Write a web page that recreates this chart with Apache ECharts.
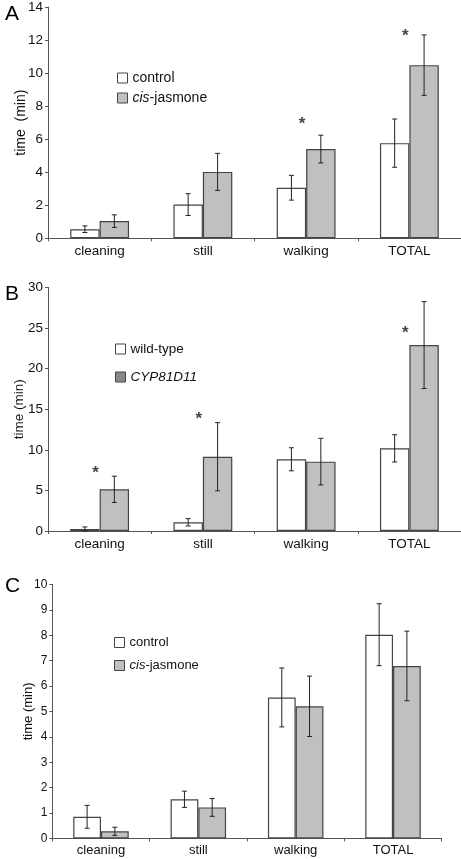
<!DOCTYPE html>
<html><head><meta charset="utf-8">
<script src="https://cdn.jsdelivr.net/npm/echarts@6/dist/echarts.min.js"></script>
<style>html,body{margin:0;padding:0;background:#fff}#c{width:461px;height:859px}</style>
</head><body><div id="c"></div>
<script>
var categories = ['cleaning', 'still', 'walking', 'TOTAL'];

// Panel A
var aNames = ['control', 'cis-jasmone'];
var aControl = [0.55, 2.04, 3.06, 5.76];
var aControlErr = [0.2, 0.66, 0.75, 1.46];
var aCis = [1.04, 4.02, 5.40, 10.48];
var aCisErr = [0.38, 1.12, 0.84, 1.83];
var aStarCat = [2, 3];
var aStarY = [6.98, 12.29];

// Panel B
var bNames = ['wild-type', 'CYP81D11'];
var bWild = [0.25, 1.07, 8.83, 10.18];
var bWildErr = [0.25, 0.45, 1.42, 1.68];
var bCyp = [5.13, 9.15, 8.54, 22.9];
var bCypErr = [1.62, 4.2, 2.87, 5.35];
var bStarCat = [0, 1, 3];
var bStarY = [7.18, 13.9, 24.5];

// Panel C
var cNames = ['control', 'cis-jasmone'];
var cControl = [0.85, 1.54, 5.55, 8.02];
var cControlErr = [0.45, 0.32, 1.16, 1.22];
var cCis = [0.28, 1.22, 5.2, 6.79];
var cCisErr = [0.16, 0.35, 1.19, 1.37];

var FONT = "'Liberation Sans', Arial, sans-serif";
var GAP = 0.43;

function errSeries(gi, means, errs, side) {
  return {
    type: 'custom', xAxisIndex: gi, yAxisIndex: gi, z: 5, silent: true,
    data: means.map(function (m, i) { return [i, m, errs[i]]; }),
    encode: { x: 0, y: 1 },
    renderItem: function (params, api) {
      var x = api.value(0), m = api.value(1), e = api.value(2);
      var band = api.size([1, 0])[0];
      var bw = band * (1 - GAP) / 2;
      var cx = api.coord([x, m])[0] + side * bw / 2;
      var top = api.coord([x, m + e])[1];
      var bot = api.coord([x, Math.max(0, m - e)])[1];
      var cap = 2.5;
      var st = { stroke: '#222', lineWidth: 1 };
      return { type: 'group', children: [
        { type: 'line', shape: { x1: cx, y1: top, x2: cx, y2: bot }, style: st },
        { type: 'line', shape: { x1: cx - cap, y1: top, x2: cx + cap, y2: top }, style: st },
        { type: 'line', shape: { x1: cx - cap, y1: bot, x2: cx + cap, y2: bot }, style: st }
      ] };
    }
  };
}
function barSeries(gi, name, vals, color) {
  return {
    type: 'bar', name: name, xAxisIndex: gi, yAxisIndex: gi, data: vals,
    barGap: '0%', barCategoryGap: (GAP * 100) + '%', silent: true,
    itemStyle: { color: color, borderColor: '#444', borderWidth: 1.2 }
  };
}
function starSeries(gi, cats, ys) {
  return {
    type: 'scatter', xAxisIndex: gi, yAxisIndex: gi, symbolSize: 0, z: 6, silent: true,
    data: cats.map(function (c, i) { return [c, ys[i]]; }),
    label: { show: true, position: 'inside', formatter: '*', offset: [-4, 1],
      fontSize: 17, fontWeight: 'bold', color: '#111', fontFamily: FONT }
  };
}
function xAxis(gi, fs) {
  return {
    type: 'category', gridIndex: gi, data: categories, boundaryGap: true,
    axisLine: { lineStyle: { color: '#555', width: 1 } },
    axisTick: { show: true, interval: 0, length: 3, lineStyle: { color: '#555' } },
    axisLabel: { color: '#111', fontSize: fs, fontFamily: FONT, margin: 6, interval: 0 },
    splitLine: { show: false }
  };
}
function yAxis(gi, max, interval, fs, name, nameFs, gap) {
  return {
    type: 'value', gridIndex: gi, min: 0, max: max, interval: interval,
    name: name, nameLocation: 'middle', nameRotate: 90, nameGap: gap, nameMoveOverlap: false,
    nameTextStyle: { color: '#111', fontSize: nameFs, fontFamily: FONT },
    axisLine: { show: true, lineStyle: { color: '#555', width: 1 } },
    axisTick: { show: true, inside: false, length: 3, lineStyle: { color: '#555' } },
    axisLabel: { color: '#111', fontSize: fs, fontFamily: FONT, margin: 5 },
    splitLine: { show: false }
  };
}
function legendFmt(name) {
  if (name === 'cis-jasmone') return '{i|cis}{n|-jasmone}';
  if (name === 'CYP81D11') return '{i|CYP81D11}';
  return '{n|' + name + '}';
}
function legend(left, top, names, fs, gap, colors) {
  return {
    orient: 'vertical', left: left, top: top, itemWidth: 10, itemHeight: 10, itemGap: gap,
    selectedMode: false, icon: 'rect',
    data: names.map(function (n, i) { return { name: n, itemStyle: { color: colors[i], borderColor: '#444', borderWidth: 1 } }; }),
    formatter: legendFmt,
    textStyle: { color: '#111', fontSize: fs, fontFamily: FONT, lineHeight: fs,
      rich: { i: { fontStyle: 'italic', fontSize: fs, fontFamily: FONT, color: '#111' },
              n: { fontSize: fs, fontFamily: FONT, color: '#111' } } }
  };
}

var chart = echarts.init(document.getElementById('c'), null, { renderer: 'canvas' });
chart.setOption({
  animation: false,
  backgroundColor: '#fff',
  title: [
    { text: 'A', left: 0, top: -1, textStyle: { fontSize: 21, fontWeight: 'normal', color: '#000', fontFamily: FONT } },
    { text: 'B', left: 0, top: 279, textStyle: { fontSize: 21, fontWeight: 'normal', color: '#000', fontFamily: FONT } },
    { text: 'C', left: 0, top: 571, textStyle: { fontSize: 21, fontWeight: 'normal', color: '#000', fontFamily: FONT } }
  ],
  legend: [
    legend(112, 66, aNames, 14, 6, ['#fff', '#c0c0c0']),
    legend(110, 337, bNames, 13.5, 14, ['#fff', '#888']),
    legend(109, 631, cNames, 13, 10, ['#fff', '#c0c0c0'])
  ],
  grid: [
    { left: 48, top: 5, width: 413, height: 233.3 },
    { left: 48, top: 287.4, width: 413, height: 243.6 },
    { left: 52.3, top: 584.4, width: 389.4, height: 254 }
  ],
  xAxis: [xAxis(0, 13.5), xAxis(1, 13.5), xAxis(2, 13)],
  yAxis: [
    yAxis(0, 14, 2, 13.5, 'time  (min)', 14, 20),
    yAxis(1, 30, 5, 13.5, 'time (min)', 13.5, 22),
    yAxis(2, 10, 1, 12, 'time (min)', 13, 17)
  ],
  series: [
    barSeries(0, aNames[0], aControl, '#fff'),
    barSeries(0, aNames[1], aCis, '#c0c0c0'),
    errSeries(0, aControl, aControlErr, -1),
    errSeries(0, aCis, aCisErr, 1),
    starSeries(0, aStarCat, aStarY),
    barSeries(1, bNames[0], bWild, '#fff'),
    barSeries(1, bNames[1], bCyp, '#c0c0c0'),
    errSeries(1, bWild, bWildErr, -1),
    errSeries(1, bCyp, bCypErr, 1),
    starSeries(1, bStarCat, bStarY),
    barSeries(2, cNames[0], cControl, '#fff'),
    barSeries(2, cNames[1], cCis, '#c0c0c0'),
    errSeries(2, cControl, cControlErr, -1),
    errSeries(2, cCis, cCisErr, 1)
  ]
});
</script></body></html>
